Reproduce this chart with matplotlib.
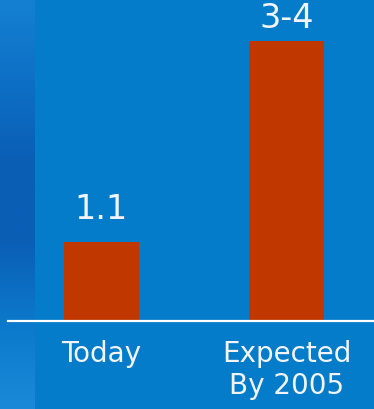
import matplotlib.pyplot as plt
import numpy as np
from matplotlib.colors import LinearSegmentedColormap

categories = ["Today", "Expected\nBy 2005"]
values = [1.1, 3.9]
value_labels = ["1.1", "3-4"]

bg = "#047cca"
bar_color = "#c03800"
text_color = "#f2f4f8"

fig = plt.figure(figsize=(3.74, 4.10), dpi=100)
fig.patch.set_facecolor(bg)

# textured strip on the left edge
strip = fig.add_axes([0, 0, 35 / 374, 1])
cmap = LinearSegmentedColormap.from_list(
    "strip", ["#1580d2", "#0d70c6", "#0a5eb4", "#0a60b6", "#0c7acc", "#1a8ad8"])
grad = np.linspace(0, 1, 256).reshape(-1, 1)
strip.imshow(grad, aspect="auto", cmap=cmap, extent=[0, 1, 0, 1], origin="upper")
strip.axis("off")

ax = fig.add_axes([8 / 374, 88 / 410, 366 / 374, 322 / 410])
ax.set_facecolor("none")
x = np.arange(len(categories))
bars = ax.bar(x, values, width=0.41, color=bar_color)
ax.set_xlim(-0.505, 1.473)
ax.set_ylim(0, 4.485)

label_gaps = [12, 5]  # points above bar top
for b, lab, gap in zip(bars, value_labels, label_gaps):
    ax.annotate(lab, (b.get_x() + b.get_width() / 2, b.get_height()),
                xytext=(0, gap), textcoords="offset points",
                ha="center", va="bottom", fontsize=24, color=text_color,
                annotation_clip=False)

for s in ["top", "right", "left"]:
    ax.spines[s].set_visible(False)
ax.spines["bottom"].set_color("white")
ax.spines["bottom"].set_linewidth(1.6)
ax.set_yticks([])
ax.set_xticks(x)
ax.set_xticklabels(categories, fontsize=20, color=text_color, linespacing=1.2)
ax.tick_params(axis="x", length=0, pad=13)

fig.savefig("out.png", dpi=100, facecolor=bg)
